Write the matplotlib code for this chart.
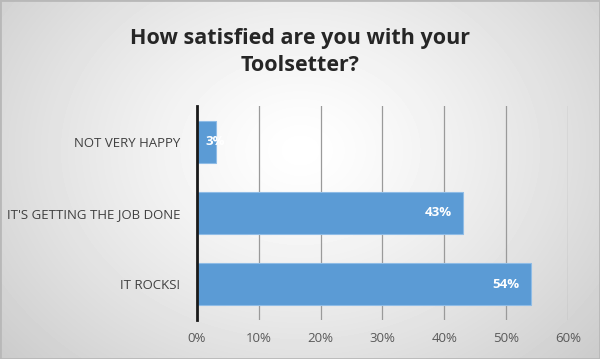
import numpy as np
import matplotlib.pyplot as plt
from matplotlib.ticker import PercentFormatter

categories = ["IT ROCKS!", "IT'S GETTING THE JOB DONE", "NOT VERY HAPPY"]
values = [0.54, 0.43, 0.03]
labels = ["54%", "43%", "3%"]
xticks = [0, 0.1, 0.2, 0.3, 0.4, 0.5, 0.6]

plt.rcParams["font.family"] = ["Open Sans", "DejaVu Sans"]

fig = plt.figure(figsize=(6, 3.59), dpi=100)

# soft radial grey background
bg = fig.add_axes([0, 0, 1, 1], zorder=0)
yy, xx = np.mgrid[0:359, 0:600]
r = np.sqrt(((xx - 300) / 330.0) ** 2 + ((yy - 150) / 260.0) ** 2)
shade = np.clip(1.0 - 0.16 * r ** 1.3, 0, 1)
bg.imshow(shade, cmap="gray", vmin=0, vmax=1, aspect="auto", extent=[0, 1, 0, 1])
bg.plot([0, 1, 1, 0, 0], [0, 0, 1, 1, 0], color="#b8b8b8", lw=2, transform=bg.transAxes)
bg.set_xlim(0, 1)
bg.set_ylim(0, 1)
bg.axis("off")

ax = fig.add_axes([197 / 600, 1 - 320 / 359, 371 / 600, 214 / 359], zorder=1)
ax.patch.set_alpha(0)

y = np.arange(len(categories))
bars = ax.barh(y, values, height=0.59, color="#5b9bd5", edgecolor="#8fbce6",
               linewidth=0.8, zorder=3)
for bar, val, lab in zip(bars, values, labels):
    yc = bar.get_y() + bar.get_height() / 2
    if val > 0.1:
        ax.text(val - 0.018, yc, lab, ha="right", va="center", color="white",
                fontsize=9.5, fontweight="bold", zorder=4)
    else:
        ax.text(val, yc, lab, ha="center", va="center", color="white",
                fontsize=9.5, fontweight="bold", zorder=4)

ax.set_xlim(0, 0.6)
ax.set_ylim(-0.5, 2.5)
ax.set_xticks(xticks)
ax.xaxis.set_major_formatter(PercentFormatter(1.0, decimals=0))
ax.set_yticks(y)
ax.set_yticklabels(categories)
ax.grid(axis="x", color="#9a9a9a", lw=0.9, zorder=1)
ax.tick_params(axis="both", length=0, labelsize=9.5)
ax.tick_params(axis="x", pad=9, colors="#595959")
ax.tick_params(axis="y", pad=12, colors="#404040")
for s in ["top", "right", "bottom"]:
    ax.spines[s].set_visible(False)
ax.spines["left"].set_color("#1a1a1a")
ax.spines["left"].set_linewidth(2)
ax.spines["left"].set_zorder(5)

fig.text(0.5, 1 - 52 / 359, "How satisfied are you with your\nToolsetter?",
         ha="center", va="center", fontsize=15.5, fontweight="bold",
         color="#262626", linespacing=1.4)

fig.savefig("out.png", dpi=100)
